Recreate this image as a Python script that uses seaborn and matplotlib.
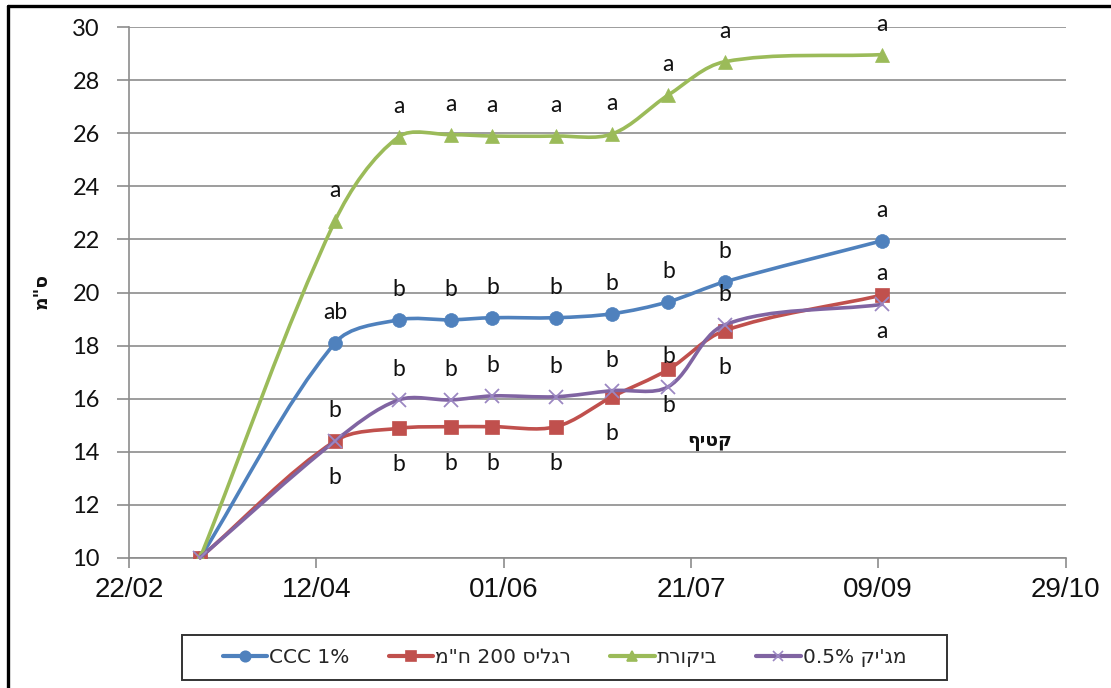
import numpy as np
import pandas as pd
import matplotlib
matplotlib.use('Agg')
import matplotlib.pyplot as plt
import matplotlib.dates as mdates
from matplotlib.path import Path
from matplotlib.patches import PathPatch, Rectangle
from matplotlib.lines import Line2D
import seaborn as sns

# ---------------- data ----------------
dates = ['2012-03-12', '2012-04-17', '2012-05-04', '2012-05-18', '2012-05-29',
         '2012-06-15', '2012-06-30', '2012-07-15', '2012-07-30', '2012-09-10']
ccc = [10.0, 18.1, 18.97, 18.97, 19.05, 19.05, 19.2, 19.65, 20.4, 21.95]
regalis = [10.0, 14.4, 14.88, 14.94, 14.94, 14.94, 16.07, 17.1, 18.56, 19.9]
control = [10.0, 22.7, 25.87, 25.95, 25.9, 25.9, 25.98, 27.45, 28.7, 28.97]
magic = [10.0, 14.4, 15.95, 15.95, 16.1, 16.07, 16.3, 16.45, 18.78, 19.55]

ccc_letters = ['', 'ab', 'b', 'b', 'b', 'b', 'b', 'b', 'b', 'a']
regalis_letters = ['', 'b', 'b', 'b', 'b', 'b', 'b', 'b', 'b', 'a']
control_letters = ['', 'a', 'a', 'a', 'a', 'a', 'a', 'a', 'a', 'a']
magic_letters = ['', 'b', 'b', 'b', 'b', 'b', 'b', 'b', 'b', 'a']

series_names = ['CCC 1%', 'רגליס 200 ח"מ', 'ביקורת', "מג'יק 0.5%"]
x_tick_dates = ['2012-02-22', '2012-04-12', '2012-06-01', '2012-07-21', '2012-09-09', '2012-10-29']
y_ticks = [10, 12, 14, 16, 18, 20, 22, 24, 26, 28, 30]
y_label = 'ס"מ'
harvest_label = 'קטיף'
harvest_date = '2012-07-26'
harvest_value = 14.37


def rtl(s):
    """Visual (left-to-right) order for a Hebrew string."""
    if not any('\u0590' <= ch <= '\u05ff' for ch in s):
        return s
    out = []
    for tok in reversed(s.split(' ')):
        if any('\u0590' <= ch <= '\u05ff' for ch in tok):
            out.append(tok[::-1])
        else:
            out.append(tok)
    return ' '.join(out)


def smooth_path(ax, xs, ys):
    """Bezier path through the data points (spreadsheet-style smoothed line)."""
    pts = np.column_stack([xs, ys]).astype(float)
    pix = ax.transData.transform(pts)
    n = len(pts)

    def d(i, j):
        return float(np.hypot(*(pix[j] - pix[i])))

    verts = [pts[0]]
    codes = [Path.MOVETO]
    for i in range(n - 1):
        i0 = max(i - 1, 0)
        i3 = min(i + 2, n - 1)
        d01, d12, d23 = d(i0, i), d(i, i + 1), d(i + 1, i3)
        w1 = d12 / (d01 + d12) / 3.0 if (d01 + d12) > 0 else 0.0
        w2 = d12 / (d12 + d23) / 3.0 if (d12 + d23) > 0 else 0.0
        c1 = pts[i] + (pts[i + 1] - pts[i0]) * w1
        c2 = pts[i + 1] - (pts[i3] - pts[i]) * w2
        verts += [c1, c2, pts[i + 1]]
        codes += [Path.CURVE4] * 3
    return Path(verts, codes)


sns.set_style('white')
plt.rcParams['font.family'] = ['Lato', 'Liberation Sans', 'DejaVu Sans']

W, H = 1111, 688
fig = plt.figure(figsize=(W / 100, H / 100), dpi=100)
ax_left, ax_right, ax_top, ax_bottom = 129, 1065.5, 27.3, 557.7
ax = fig.add_axes([ax_left / W, 1 - ax_bottom / H, (ax_right - ax_left) / W, (ax_bottom - ax_top) / H])

x_dt = pd.to_datetime(dates)
xnum = mdates.date2num(x_dt)

colors = ['#4F81BD', '#C0504D', '#9BBB59', '#8064A2']
markers = ['o', 's', '^', 'x']
msizes = [10, 10, 10.5, 10]
values = [ccc, regalis, control, magic]
letters = [ccc_letters, regalis_letters, control_letters, magic_letters]
letter_offsets = [24, -43, 24, 24]

ax.set_xlim(pd.Timestamp(x_tick_dates[0]), pd.Timestamp(x_tick_dates[-1]))
ax.set_ylim(10, 30)

for i, (vals, c, m, ms) in enumerate(zip(values, colors, markers, msizes)):
    patch = PathPatch(smooth_path(ax, xnum, vals), facecolor='none', edgecolor=c, lw=2.6,
                      capstyle='round', joinstyle='round', transform=ax.transData,
                      zorder=3 + i, clip_on=False)
    ax.add_patch(patch)
    mec = '#9B87C2' if m == 'x' else c
    sns.lineplot(x=x_dt, y=vals, ax=ax, color=c, marker=m, markersize=ms, linewidth=0,
                 markeredgecolor=mec, markeredgewidth=1.3 if m == 'x' else 0.5,
                 legend=False, zorder=3.5 + i)

for vals, labs, off in zip(values, letters, letter_offsets):
    for xd, yv, lab in zip(x_dt, vals, labs):
        if lab:
            ax.annotate(lab, (xd, yv), xytext=(0, off), textcoords='offset pixels',
                        ha='center', va='baseline', fontsize=16.5, color='#111111',
                        family=['Lato', 'DejaVu Sans'], zorder=10, annotation_clip=False)

ax.text(pd.Timestamp(harvest_date), harvest_value, rtl(harvest_label), ha='center', va='center',
        fontsize=13.5, fontweight='bold', family=['DejaVu Sans'], color='#111111')

# axes styling
grid_c = '#8c8c8c'
ax.set_yticks(y_ticks)
ax.set_xticks(pd.to_datetime(x_tick_dates))
ax.xaxis.set_major_formatter(mdates.DateFormatter('%d/%m'))
ax.yaxis.grid(True, color=grid_c, lw=1.2)
ax.xaxis.grid(False)
for s in ['top', 'right']:
    ax.spines[s].set_visible(False)
for s in ['left', 'bottom']:
    ax.spines[s].set_color(grid_c)
    ax.spines[s].set_linewidth(1.2)
ax.tick_params(axis='y', length=9, width=1.2, color=grid_c, pad=12, labelsize=17, labelcolor='#111111', left=True)
ax.tick_params(axis='x', length=7, width=1.2, color=grid_c, pad=7, labelsize=20, labelcolor='#111111', bottom=True)
for lbl in ax.get_xticklabels():
    lbl.set_fontfamily(['Liberation Sans', 'DejaVu Sans'])
for lbl in ax.get_yticklabels():
    lbl.set_fontfamily(['Lato', 'DejaVu Sans'])
ax.set_xlabel('')
ax.set_ylabel('')

fig.text(42 / W, 1 - 292 / H, rtl(y_label), rotation=90, ha='center', va='center', fontsize=13.5,
         fontweight='bold', family=['DejaVu Sans'], color='#111111')

# legend (frame drawn separately for exact box size)
handles = [Line2D([0], [0], color=c, lw=3, marker=m, markersize=ms * 0.75,
                  markeredgecolor=('#9B87C2' if m == 'x' else c), markeredgewidth=1.2)
           for c, m, ms in zip(colors, markers, msizes)]
leg = fig.legend(handles, [rtl(s) for s in series_names], loc='center',
                 bbox_to_anchor=(564.5 / W, 1 - 657.5 / H),
                 ncol=4, frameon=False, handlelength=2.2, handletextpad=0.1,
                 columnspacing=1.95, borderpad=0.3, borderaxespad=0,
                 prop={'family': ['DejaVu Sans'], 'size': 14.5})
fig.add_artist(Rectangle((182 / W, 1 - 680 / H), 765 / W, 45 / H, transform=fig.transFigure,
                         facecolor='none', edgecolor='#333333', lw=1.4))

# outer frame (left and top edges visible)
fig.add_artist(Line2D([8 / W, 8 / W], [0, 1 - 5.7 / H], transform=fig.transFigure, color='black', lw=2.4))
fig.add_artist(Line2D([8 / W, 1], [1 - 5.7 / H, 1 - 5.7 / H], transform=fig.transFigure, color='black', lw=2.4))

fig.savefig('out.png', dpi=100)
